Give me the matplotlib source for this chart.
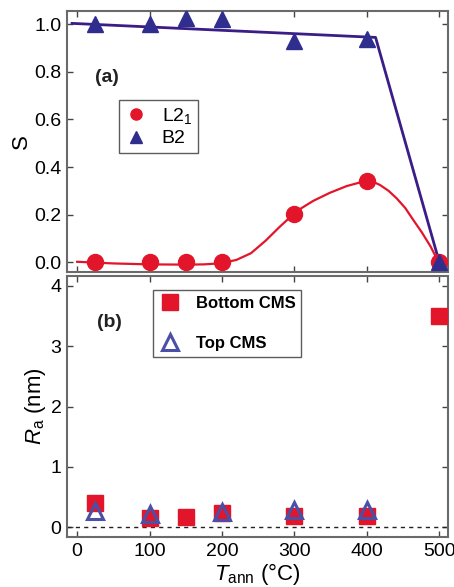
import matplotlib
matplotlib.use("Agg")
import matplotlib.pyplot as plt
from matplotlib.lines import Line2D

plt.rcParams["font.family"] = ["Liberation Sans", "DejaVu Sans"]
plt.rcParams["mathtext.fontset"] = "custom"
plt.rcParams["mathtext.rm"] = "Liberation Sans"
plt.rcParams["mathtext.it"] = "Liberation Sans:italic"

RED = "#e2152b"
NAVY = "#2f2e8f"
PURPLE = "#3a1d86"
OPEN_BLUE = "#4a50a6"
SPINE = "#6a6a6a"

# order parameters (panel a)
t_l21 = [25, 100, 150, 200, 300, 400, 500]
s_l21 = [0.0, 0.0, 0.0, 0.0, 0.203, 0.343, 0.0]
t_b2 = [25, 100, 150, 200, 300, 400, 500]
s_b2 = [1.0, 1.003, 1.025, 1.022, 0.928, 0.94, 0.0]

# guide lines
t_b2_line = [-7, 412, 500]
s_b2_line = [1.004, 0.945, 0.0]
t_l21_line = [0, 50, 100, 150, 175, 200, 220, 240, 260, 280, 290, 299, 310,
              326, 349, 372, 390, 400, 410, 418, 430, 441, 453, 464, 476, 488,
              499]
s_l21_line = [0.002, -0.005, -0.009, -0.01, -0.009, -0.004, 0.01, 0.038, 0.09,
              0.15, 0.178, 0.203, 0.228, 0.258, 0.292, 0.32, 0.335, 0.339,
              0.336, 0.325, 0.3, 0.269, 0.228, 0.178, 0.125, 0.066, 0.0]

# roughness (panel b)
t_bottom = [25, 100, 150, 200, 300, 400, 500]
ra_bottom = [0.41, 0.16, 0.17, 0.24, 0.19, 0.19, 3.5]
t_top = [25, 100, 200, 300, 400]
ra_top = [0.275, 0.22, 0.25, 0.28, 0.28]

W, H = 454, 587
fig = plt.figure(figsize=(W / 100, H / 100), dpi=100)
ax1 = fig.add_axes([67 / W, 1 - 272 / H, 381 / W, 261 / H])
ax2 = fig.add_axes([67 / W, 1 - 537 / H, 381 / W, 261 / H])

for ax in (ax1, ax2):
    ax.set_xlim(-14, 512)
    ax.set_xticks([0, 100, 200, 300, 400, 500])
    ax.tick_params(direction="in", top=True, right=True, length=4, width=1,
                   color="#444444", labelsize=14, pad=4)
    for sp in ax.spines.values():
        sp.set_color(SPINE)
        sp.set_linewidth(1.5)

# panel a
ax1.plot(t_b2_line, s_b2_line, color=PURPLE, lw=2)
ax1.plot(t_l21_line, s_l21_line, color=RED, lw=1.6)
ax1.plot(t_l21, s_l21, "o", color=RED, ms=11.5, ls="none", zorder=3)
ax1.plot(t_b2, s_b2, "^", color=NAVY, ms=12, ls="none", zorder=4)
ax1.set_ylim(-0.041, 1.056)
ax1.set_yticks([0, 0.2, 0.4, 0.6, 0.8, 1.0])
ax1.set_yticklabels(["0.0", "0.2", "0.4", "0.6", "0.8", "1.0"])
ax1.tick_params(labelbottom=False)
ax1.set_ylabel("S", fontsize=16, labelpad=1.5)
ax1.text(0.073, 0.747, "(a)", transform=ax1.transAxes, fontsize=14,
         fontweight="bold", va="center", color="#222222")
h_a = [Line2D([], [], marker="o", color=RED, ls="none", ms=8),
       Line2D([], [], marker="^", color=NAVY, ls="none", ms=8)]
leg1 = ax1.legend(h_a, ["L2$_1$", "B2"], loc="upper left",
                  bbox_to_anchor=(0.136, 0.659), borderaxespad=0,
                  fontsize=14, frameon=True, fancybox=False,
                  edgecolor="#333333", handletextpad=0.7, borderpad=0.3,
                  labelspacing=0.2, handlelength=1.2)
leg1.get_frame().set_linewidth(1.0)

# panel b
ax2.axhline(0, color="#222222", lw=1, ls=(0, (3, 3)))
ax2.plot(t_bottom, ra_bottom, "s", color=RED, ms=12, ls="none", zorder=3)
ax2.plot(t_top, ra_top, "^", mfc="none", mec=OPEN_BLUE, mew=2.2, ms=12,
         ls="none", zorder=4)
ax2.set_ylim(-0.16, 4.16)
ax2.set_yticks([0, 1, 2, 3, 4])
ax2.set_ylabel("$\\mathit{R}_\\mathrm{a}$ (nm)", fontsize=16, labelpad=2)
ax2.set_xlabel("$\\mathit{T}_\\mathrm{ann}$ (\u00b0C)", fontsize=16, labelpad=1)
ax2.text(0.079, 0.82, "(b)", transform=ax2.transAxes, fontsize=14,
         fontweight="bold", va="center", color="#222222")
h_b = [Line2D([], [], marker="s", color=RED, ls="none", ms=12),
       Line2D([], [], marker="^", mfc="none", mec=OPEN_BLUE, mew=2.2,
              ls="none", ms=12)]
leg2 = ax2.legend(h_b, ["Bottom CMS", "Top CMS"], loc="upper left",
                  bbox_to_anchor=(0.226, 0.946), borderaxespad=0,
                  frameon=True, fancybox=False, edgecolor="#333333",
                  handletextpad=0.9, borderpad=0.35, labelspacing=1.5,
                  handlelength=1.3, prop={"weight": "bold", "size": 12})
leg2.get_frame().set_linewidth(1.0)

fig.savefig("out.png", dpi=100)
